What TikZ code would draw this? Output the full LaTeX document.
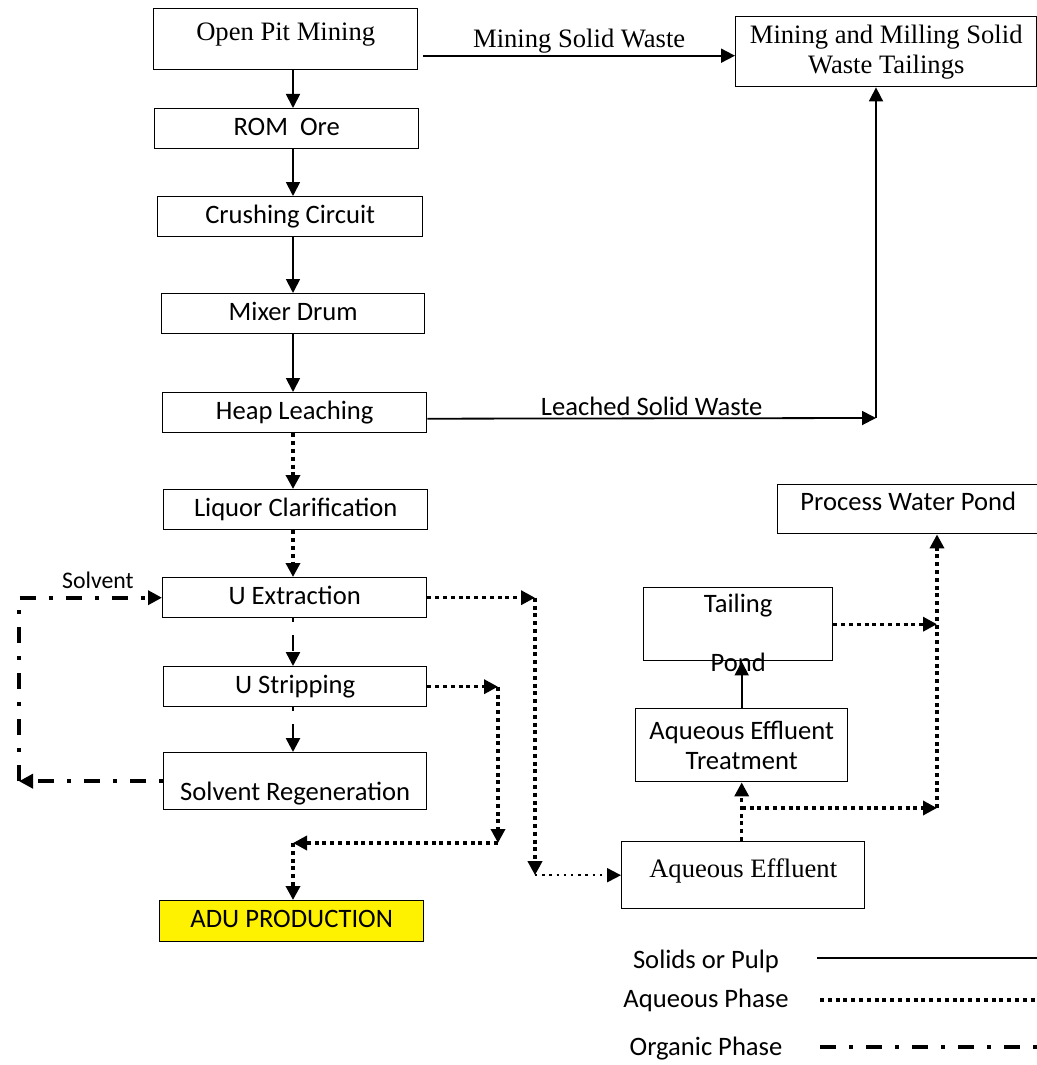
\documentclass[tikz,border=0pt]{standalone}
\usepackage{fontspec}
\setmainfont{Carlito}
\newfontfamily\timesfont{Liberation Serif}
\newcommand\bodysize{\fontsize{13.3}{15}\selectfont}
\usetikzlibrary{arrows.meta}
\begin{document}
\begin{tikzpicture}[x=0.5pt,y=-0.5pt,font=\bodysize,
    box/.style={draw,line width=0.7pt,anchor=north west,inner xsep=2pt,inner ysep=0pt,align=center},
    oneline/.style={text height=9pt,text depth=2.5pt},
    serif/.style={font=\timesfont\bodysize},
    endtip/.style={-{Triangle[length=7pt,width=7pt]}},
    pulp/.style={line width=0.9pt},
    aqueous/.style={line width=1.7pt,dash pattern=on 2pt off 1.9pt},
    aqthin/.style={line width=1pt,dash pattern=on 1.2pt off 2.4pt},
    organic/.style={line width=1.3pt,dash pattern=on 8pt off 6.5pt on 2pt off 6.5pt}]
  \useasboundingbox (0,0) rectangle (1037,1065);
  % main column
  \node[box,oneline,serif,minimum width=132pt,minimum height=30.5pt,text depth=8pt] (opm) at (153,8) {Open Pit Mining};
  \node[box,oneline,minimum width=132pt,minimum height=20pt] (rom) at (154,108) {ROM\ \ Ore};
  \node[box,oneline,minimum width=132.5pt,minimum height=20pt] (cc) at (157,196) {Crushing Circuit};
  \node[box,oneline,minimum width=131.5pt,minimum height=20pt] (md) at (161,293) {Mixer Drum};
  \node[box,oneline,minimum width=132pt,minimum height=20pt] (hl) at (162,392) {Heap Leaching};
  \node[box,oneline,minimum width=132pt,minimum height=20pt] (lc) at (163,489) {Liquor Clarification};
  \node[box,oneline,minimum width=132pt,minimum height=20pt] (ue) at (162,577) {U Extraction};
  \node[box,oneline,minimum width=131.5pt,minimum height=20pt] (us) at (163,666) {U Stripping};
  \node[box,oneline,minimum width=131.5pt,minimum height=28.5pt,text height=21.5pt] (sr) at (163,752) {Solvent Regeneration};
  \node[box,oneline,fill=yellow,minimum width=132pt,minimum height=20.5pt] (adu) at (159,900) {ADU PRODUCTION};
  % right side
  \node[box,serif,minimum width=150.5pt,minimum height=35pt] (mmt) at (735,16) {Mining and Milling Solid\\Waste Tailings};
  \node[box,oneline,minimum width=130.5pt,minimum height=24.5pt,text depth=7.5pt] (pwp) at (777,484) {Process Water Pond};
  \node[box,oneline,minimum width=94.5pt,minimum height=36.5pt,text depth=20.5pt,
    label={[anchor=base,yshift=-5pt,inner sep=0pt]south:Pond}] (tp) at (643,587) {Tailing};
  \node[box,minimum width=106pt,minimum height=36.5pt] (aet) at (635,708) {Aqueous Effluent\\Treatment};
  \node[box,oneline,serif,minimum width=121.5pt,minimum height=33.5pt,text depth=6.5pt] (ae) at (621,841) {Aqueous Effluent};
  \coordinate (col) at (293,0);
  \coordinate (lsw) at (876,418);
  \coordinate (xa) at (535,0);
  \coordinate (xb) at (498,843);
  \coordinate (xc) at (937,808);
  \coordinate (crn) at (19,0);
  \draw[pulp,endtip] (opm.south -| col) -- (rom.north -| col);
  \draw[pulp,endtip] (rom.south -| col) -- (cc.north -| col);
  \draw[pulp,endtip] (cc.south -| col) -- (md.north -| col);
  \draw[pulp,endtip] (md.south -| col) -- (hl.north -| col);
  \draw[aqueous,endtip] (hl.south -| col) -- (lc.north -| col);
  \draw[aqueous,endtip] (lc.south -| col) -- (ue.north -| col);
  \draw[organic,dash phase=14.5pt,endtip] (ue.south -| col) -- (us.north -| col);
  \draw[organic,dash phase=14.5pt,endtip] (us.south -| col) -- (sr.north -| col);
  % solid wastes
  \draw[pulp,endtip] ([shift={(5,16.5)}]opm.east) coordinate (msw) -- (msw -| mmt.west)
    node[midway,above,inner sep=1pt,serif]{Mining Solid Waste};
  \draw[pulp,endtip] ([yshift=-3pt]hl.east) -- (lsw) node[midway,above,inner sep=1pt]{Leached Solid Waste};
  \draw[pulp,endtip] (lsw) -- (lsw |- mmt.south);
  % aqueous streams
  \draw[aqueous,endtip] (ue.east) -- (ue.east -| xa);
  \draw[aqueous,endtip] (ue.east -| xa) -- (xa |- ae.west);
  \draw[aqthin,endtip] (xa |- ae.west) -- (ae.west);
  \draw[aqueous,endtip] (us.east) -- (us.east -| xb);
  \draw[aqueous,endtip] (us.east -| xb) -- (xb);
  \draw[aqueous,endtip] (xb) -- (xb -| col);
  \draw[aqueous,endtip] (xb -| col) -- (adu.north -| col);
  \draw[aqueous,endtip] (aet.south |- ae.north) -- (aet.south);
  \draw[aqueous,endtip] (aet.south |- xc) -- (xc);
  \draw[aqueous,endtip] (xc) -- (xc |- pwp.south);
  \draw[aqueous,endtip] (tp.east) -- (tp.east -| xc);
  \draw[pulp,endtip] (aet.north) -- (aet.north |- tp.south);
  % solvent loop
  \draw[organic,line width=2pt,dash phase=14.5pt,endtip] (sr.west) -- (sr.west -| crn);
  \draw[organic,line width=2pt,endtip] (sr.west -| crn) |- (ue.west)
    node[pos=0.776,above,font=\fontsize{11.9}{14}\selectfont]{Solvent};
  % legend
  \node[anchor=base] (lg1) at (706,968) {Solids or Pulp};
  \node[anchor=base] (lg2) at (706,1007) {Aqueous Phase};
  \node[anchor=base] (lg3) at (706,1055) {Organic Phase};
  \draw[pulp] (817,958) -- (1040,958);
  \draw[aqueous] (820,1000) -- (1040,1000);
  \draw[organic,line width=2pt] (820,1047) -- (1040,1047);
\end{tikzpicture}
\end{document}
